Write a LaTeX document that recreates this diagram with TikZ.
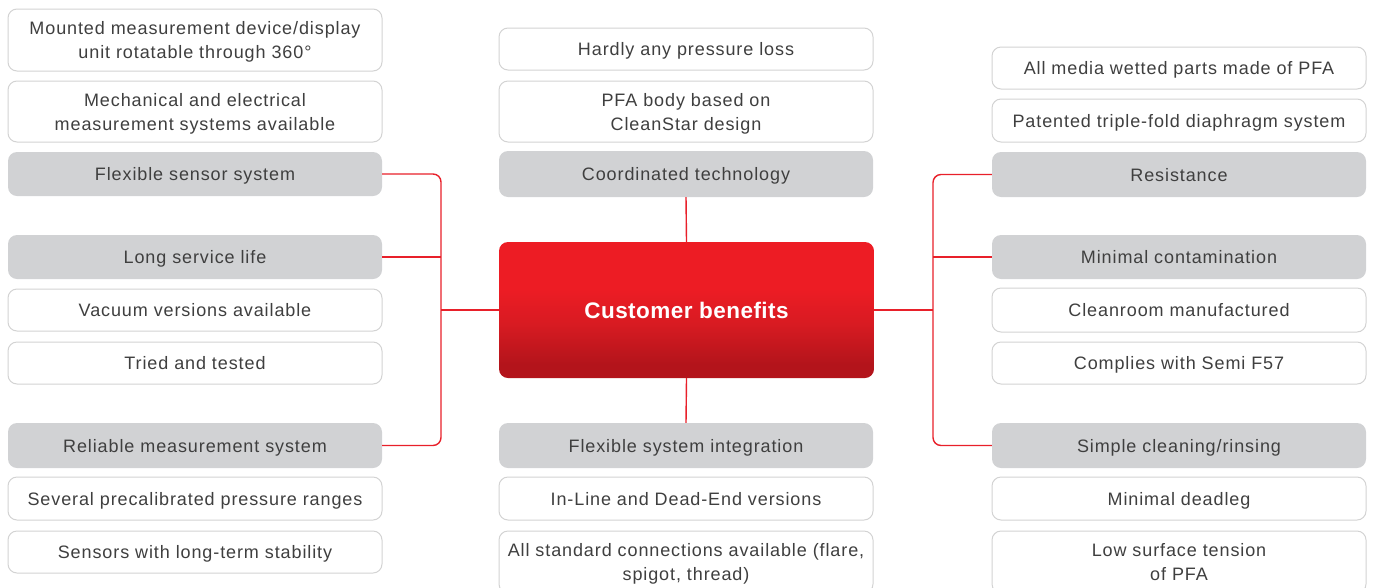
\documentclass[tikz,border=0pt]{standalone}
\usepackage{fontspec}
\setmainfont{Liberation Sans}[LetterSpace=5]
\definecolor{redline}{HTML}{E8202A}
\definecolor{graybox}{HTML}{D1D2D4}
\definecolor{boxborder}{HTML}{D3D3D3}
\definecolor{txt}{HTML}{3F3F3F}
\definecolor{rtop}{HTML}{ED1C24}
\definecolor{rmid}{HTML}{D81B22}
\definecolor{rbot}{HTML}{B3141B}
\pgfdeclareverticalshading{redgrad}{100bp}{color(0bp)=(rbot); color(30bp)=(rbot); color(45bp)=(rmid); color(58bp)=(rtop); color(100bp)=(rtop)}
\begin{document}
\begin{tikzpicture}[x=1pt,y=-1pt,
  base/.style={rounded corners=9pt, minimum width=374pt, inner sep=0pt, align=center,
    text=txt, font=\fontsize{18}{24}\selectfont},
  one/.style={text height=13pt, text depth=0pt},
  two/.style={text height=37pt, text depth=0pt},
  wbox/.style={base, draw=boxborder, line width=1pt, fill=white},
  gbox/.style={base, fill=graybox},
  cbox/.style={rounded corners=9pt, minimum width=375pt, minimum height=136pt, shading=redgrad,
    text=white, inner sep=0pt, text height=16pt, text depth=0pt,
    font=\fontsize{22.5}{26}\selectfont\bfseries\addfontfeatures{LetterSpace=2}},
  conn/.style={draw=redline, line width=1.4pt, rounded corners=8pt}]
\useasboundingbox (0,0) rectangle (1375,587);
% left column
\node[wbox, two, minimum height=62pt] (L1) at (195,40) {Mounted measurement device/display\\unit rotatable through 360°};
\node[wbox, two, minimum height=61pt] (L2) at (195,111.5) {Mechanical and electrical\\measurement systems available};
\node[gbox, one, minimum height=44pt] (L3) at (195,174) {Flexible sensor system};
\node[gbox, one, minimum height=44pt] (L4) at (195,257) {Long service life};
\node[wbox, one, minimum height=42pt] (L5) at (195,310) {Vacuum versions available};
\node[wbox, one, minimum height=42pt] (L6) at (195,363) {Tried and tested};
\node[gbox, one, minimum height=45pt] (L7) at (195,445.5) {Reliable measurement system};
\node[wbox, one, minimum height=43pt] (L8) at (195,498.5) {Several precalibrated pressure ranges};
\node[wbox, one, minimum height=42pt] (L9) at (195,552) {Sensors with long-term stability};
% middle column
\node[wbox, one, minimum height=42pt] (M1) at (686,49) {Hardly any pressure loss};
\node[wbox, two, minimum height=61pt] (M2) at (686,111.5) {PFA body based on\\CleanStar design};
\node[gbox, one, minimum height=46pt] (M3) at (686,174) {Coordinated technology};
\node[cbox] (C) at (686.5,310) {Customer benefits};
\node[gbox, one, minimum height=45pt] (M4) at (686,445.5) {Flexible system integration};
\node[wbox, one, minimum height=43pt] (M5) at (686,498.5) {In-Line and Dead-End versions};
\node[wbox, two, minimum height=62pt] (M6) at (686,562) {All standard connections available (flare,\\spigot, thread)};
% right column
\node[wbox, one, minimum height=42pt] (R1) at (1179,68) {All media wetted parts made of PFA};
\node[wbox, one, minimum height=43pt] (R2) at (1179,120.5) {Patented triple-fold diaphragm system};
\node[gbox, one, minimum height=45pt] (R3) at (1179,174.5) {Resistance};
\node[gbox, one, minimum height=44pt] (R4) at (1179,257) {Minimal contamination};
\node[wbox, one, minimum height=44pt] (R5) at (1179,310) {Cleanroom manufactured};
\node[wbox, one, minimum height=42pt] (R6) at (1179,363) {Complies with Semi F57};
\node[gbox, one, minimum height=45pt] (R7) at (1179,445.5) {Simple cleaning/rinsing};
\node[wbox, one, minimum height=43pt] (R8) at (1179,498.5) {Minimal deadleg};
\node[wbox, two, minimum height=62pt] (R9) at (1179,562) {Low surface tension\\of PFA};
% connectors
\coordinate (lb) at (441,310);
\coordinate (rb) at (933,310);
\draw[conn] (L3.east) -| (lb) |- (L7.east);
\draw[conn] (L4.east) -- (L4.east -| lb);
\draw[conn] (C.west) -- (lb);
\draw[conn] (R3.west) -| (rb) |- (R7.west);
\draw[conn] (R4.west) -- (R4.west -| rb);
\draw[conn] (C.east) -- (rb);
\draw[conn] (M3.south) -- (C.north);
\draw[conn] (C.south) -- (M4.north);
\end{tikzpicture}
\end{document}
